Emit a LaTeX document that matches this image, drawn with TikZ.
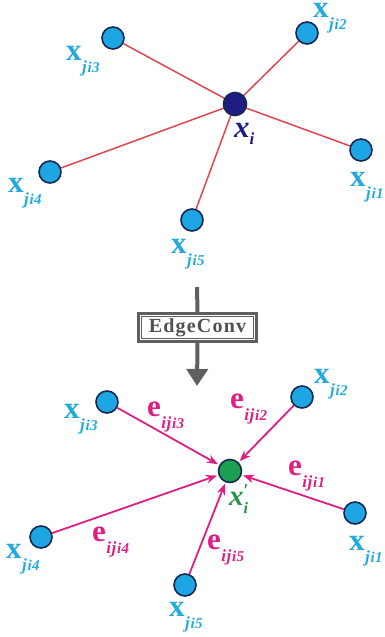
\documentclass[tikz,border=0pt]{standalone}
\usepackage{fontspec}
\setmainfont{Liberation Serif}
\usetikzlibrary{arrows.meta}
\definecolor{ptblue}{RGB}{30,165,228}
\definecolor{ptedge}{RGB}{20,40,80}
\definecolor{lblcyan}{RGB}{35,170,220}
\definecolor{redline}{RGB}{222,70,80}
\definecolor{navy}{RGB}{30,30,130}
\definecolor{ptgreen}{RGB}{25,160,80}
\definecolor{lblgreen}{RGB}{40,150,70}
\definecolor{magent}{RGB}{222,30,130}
\definecolor{arrgray}{RGB}{95,95,95}
\newcommand{\xj}[1]{{\fontsize{31}{31}\selectfont\bfseries x}\kern0.5pt\raisebox{-12pt}{\fontsize{17}{17}\selectfont\bfseries\itshape j\kern0.8pt{\fontsize{15}{15}\selectfont i\kern0.3pt#1}}}
\newcommand{\ej}[1]{{\fontsize{31}{31}\selectfont\bfseries e}\kern0.5pt\raisebox{-12pt}{\fontsize{17}{17}\selectfont\bfseries\itshape i\kern0.5pt j\kern0.8pt{\fontsize{15}{15}\selectfont i\kern0.3pt#1}}}
\begin{document}
\begin{tikzpicture}[x=1pt,y=-1pt,
  pt/.style={circle,draw=ptedge,line width=1.6pt,fill=ptblue,minimum size=22pt,inner sep=0pt},
  ctr/.style={circle,draw=ptedge,line width=1.6pt,fill=navy,minimum size=23pt,inner sep=0pt},
  gctr/.style={circle,draw=ptedge,line width=1.6pt,fill=ptgreen,minimum size=23pt,inner sep=0pt},
  lbl/.style={anchor=base west,inner sep=0pt,text=lblcyan},
  elbl/.style={anchor=base west,inner sep=0pt,text=magent},
  redl/.style={draw=redline,line width=1.5pt},
  marr/.style={draw=magent,line width=1.8pt,-{Stealth[length=11pt,width=8.5pt]},shorten >=1.5pt},
  garr/.style={draw=arrgray,line width=4pt},
  boxn/.style={draw=arrgray,line width=3pt,minimum width=118pt,minimum height=28pt,inner sep=0pt,fill=white}
]
\useasboundingbox (0,0) rectangle (385,637);
% ---------- top graph ----------
\coordinate (cc) at (235,104);
\node[pt] (a1) at (361,150) {};
\node[pt] (a2) at (307,33) {};
\node[pt] (a3) at (113,38) {};
\node[pt] (a4) at (50,172) {};
\node[pt] (a5) at (192,220) {};
\foreach \n in {a1,a2,a3,a4,a5} \draw[redl] (cc) -- (\n);
\node[ctr] (c) at (cc) {};
\node[lbl] (l3) at (66,60) {\xj{3}};
\node[lbl] (l2) at (313,17) {\xj{2}};
\node[lbl] (l1) at (350,186) {\xj{1}};
\node[lbl] (l4) at (8,192) {\xj{4}};
\node[lbl] (l5) at (171,253) {\xj{5}};
\node[anchor=base west,inner sep=0pt,text=navy] (li) at (234,137) {{\fontsize{31}{31}\selectfont\bfseries\itshape x}\raisebox{-7pt}{\fontsize{17}{17}\selectfont\bfseries\itshape i}};
% ---------- EdgeConv ----------
\coordinate (atop) at (197,287);
\coordinate (atip) at (197,386);
\node[boxn] (box) at (197.5,327.5) {\fontsize{20}{20}\selectfont\addfontfeature{LetterSpace=6}\bfseries\color{arrgray!85!black}EdgeConv};
\draw[garr] (atop) -- (box.north);
\draw[draw=arrgray,line width=1pt] ([shift={(4.5pt,-4.5pt)}]box.north west) rectangle ([shift={(-4.5pt,4.5pt)}]box.south east);
\draw[garr,-{Triangle[length=17pt,width=21pt]}] (box.south) -- (atip);
% ---------- bottom graph ----------
\node[gctr] (g) at (230,471) {};
\node[pt] (b1) at (355,513) {};
\node[pt] (b2) at (302,397) {};
\node[pt] (b3) at (107,402) {};
\node[pt] (b4) at (41,537) {};
\node[pt] (b5) at (185,585) {};
\foreach \n in {b1,b2,b3,b4,b5} \draw[marr] (\n) -- (g);
\node[lbl] (m3) at (64,418) {\xj{3}};
\node[lbl] (m2) at (314,383) {\xj{2}};
\node[lbl] (m1) at (349,550) {\xj{1}};
\node[lbl] (m4) at (6,558) {\xj{4}};
\node[lbl] (m5) at (169,616) {\xj{5}};
\node[anchor=base west,inner sep=0pt,text=lblgreen] (mi) at (229,505) {{\fontsize{29}{29}\selectfont\bfseries\itshape x}\rlap{\raisebox{9pt}{\fontsize{18}{18}\selectfont\bfseries ′}}\raisebox{-8pt}{\fontsize{16}{16}\selectfont\bfseries\itshape i}};
\node[elbl] (e3) at (147,416) {\ej{3}};
\node[elbl] (e2) at (230,408) {\ej{2}};
\node[elbl] (e1) at (288,475) {\ej{1}};
\node[elbl] (e4) at (92,541) {\ej{4}};
\node[elbl] (e5) at (207,549) {\ej{5}};
\end{tikzpicture}
\end{document}
